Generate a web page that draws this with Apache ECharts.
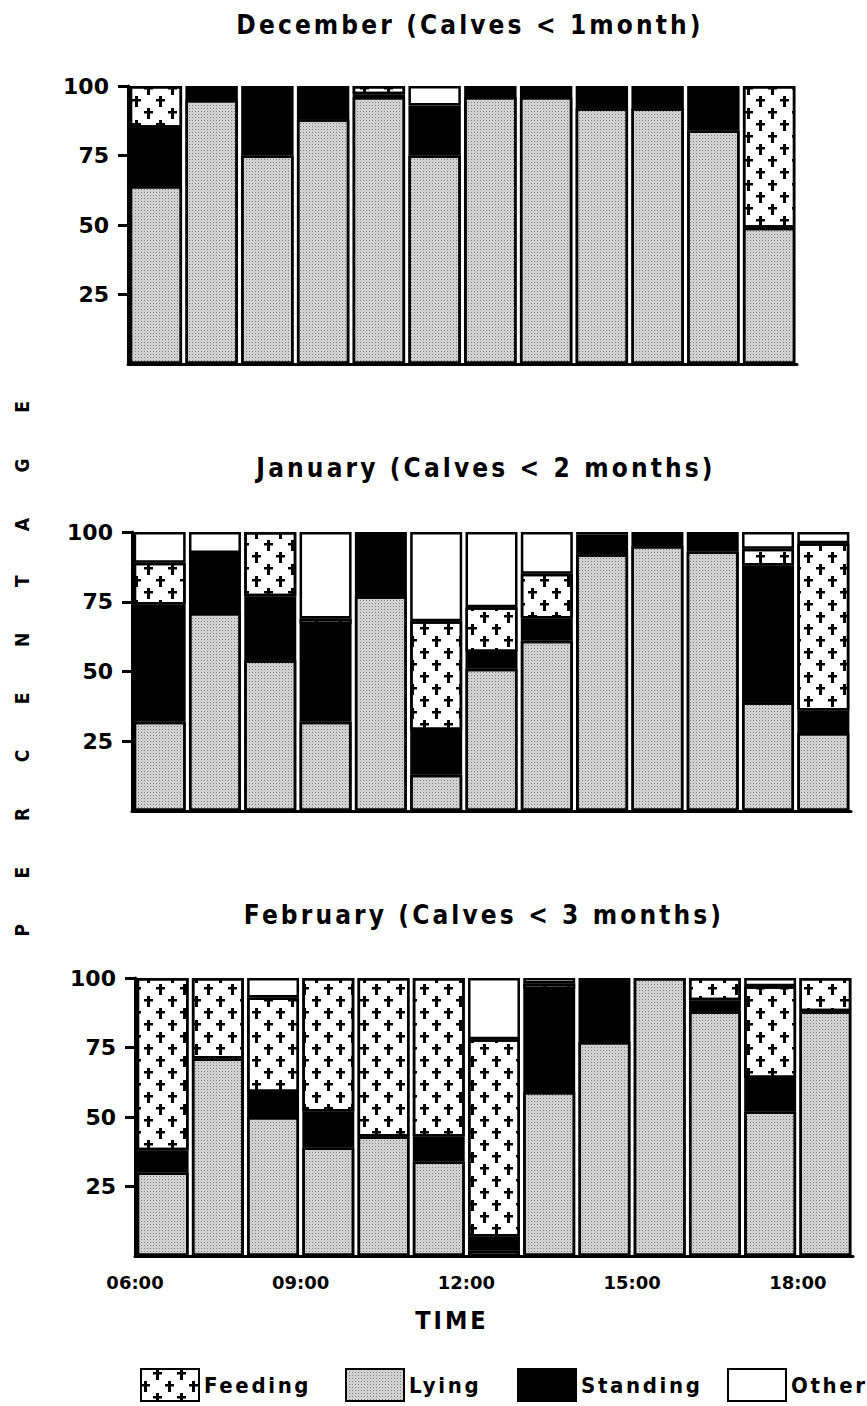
<!DOCTYPE html>
<html><head><meta charset="utf-8">
<script src="https://cdn.jsdelivr.net/npm/echarts@6/dist/echarts.min.js"></script>
<style>
html,body{margin:0;padding:0;background:#fff;}
#chart{width:867px;height:1406px;}
#chart text[style*="sans-serif"]{letter-spacing:0.12em;}
#chart text[style*="monospace"]{letter-spacing:2.4em;}
</style></head><body><div id="chart"></div>
<script>
// ---- data ----
const decCategories = ['06:00','07:00','08:00','09:00','10:00','11:00','12:00','13:00','14:00','15:00','16:00','17:00'];
const janFebCategories = ['06:00','07:00','08:00','09:00','10:00','11:00','12:00','13:00','14:00','15:00','16:00','17:00','18:00'];

const decLying    = [64, 95, 75, 88, 96, 75, 96, 96, 92, 92, 84, 49];
const decStanding = [21,  5, 25, 12,  1, 18,  4,  4,  8,  8, 16,  0];
const decFeeding  = [15,  0,  0,  0,  3,  0,  0,  0,  0,  0,  0, 51];
const decOther    = [ 0,  0,  0,  0,  0,  7,  0,  0,  0,  0,  0,  0];

const janLying    = [32, 71,  54, 32, 77, 13, 51, 61, 92, 95, 93, 39, 28];
const janStanding = [42, 20,  23, 35, 23, 16,  6,  8,  7,  5,  7, 49,  8];
const janFeeding  = [15, 1.5, 23,  2,  0, 39, 16, 16,  0,  0,  0,  6, 60];
const janOther    = [11, 7.5,  0, 31,  0, 32, 27, 15,  1,  0,  0,  6,  4];

const febLying    = [30, 71, 50, 39, 43, 34,  2, 59, 77, 100, 88, 52, 88];
const febStanding = [ 8,  0,  9, 13,  0,  9,  5, 37, 23,   0,  4, 12,  0];
const febFeeding  = [62, 29, 34, 48, 57, 57, 71,  2,  0,   0,  8, 33, 12];
const febOther    = [ 0,  0,  7,  0,  0,  0, 22,  2,  0,   0,  0,  3,  0];

const panelTitles = ['December (Calves < 1month)', 'January (Calves < 2 months)', 'February (Calves < 3 months)'];
const yTickValues = [25, 50, 75, 100];
const timeTickHours = [6, 9, 12, 15, 18];
const timeTickLabels = ['06:00', '09:00', '12:00', '15:00', '18:00'];
const seriesNames = ['Lying', 'Standing', 'Feeding', 'Other'];
const legendNames = ['Feeding', 'Lying', 'Standing', 'Other'];
const yAxisTitle = 'PERCENTAGE';
const xAxisTitle = 'TIME';

// ---- styles ----
const spacedFont = 'DejaVu Sans Condensed, sans-serif';
const wideSpacedFont = 'DejaVu Sans Condensed, monospace';
const crossPath = 'path://M3,0h3v3h3v2.5h-3v5.5h-3v-5.5h-3v-2.5h3z';
const styles = {
  Lying: {color: '#d0d0d0', borderColor: '#000', borderWidth: 2.5,
    decal: {symbol: 'rect', symbolSize: 1, dashArrayX: [1, 2], dashArrayY: [1, 2], color: '#858585'}},
  Standing: {color: '#000', borderColor: '#000', borderWidth: 2.5},
  Feeding: {color: '#fff', borderColor: '#000', borderWidth: 2.5,
    decal: {symbol: crossPath, symbolSize: 1, symbolKeepAspect: false,
      dashArrayX: [[9, 15], [0, 12, 9, 3]], dashArrayY: [11, 1], color: '#000'}},
  Other: {color: '#fff', borderColor: '#000', borderWidth: 2.5}
};

const panels = [
  {cats: decCategories, data: [decLying, decStanding, decFeeding, decOther]},
  {cats: janFebCategories, data: [janLying, janStanding, janFeeding, janOther]},
  {cats: janFebCategories, data: [febLying, febStanding, febFeeding, febOther]}
];
const grids = [
  {left: 128, top: 86, width: 669, height: 278},
  {left: 132, top: 532, width: 719, height: 279},
  {left: 135, top: 978, width: 718, height: 278}
];

const xAxes = [], yAxes = [], series = [];
panels.forEach((p, gi) => {
  xAxes.push({type: 'category', gridIndex: gi, data: p.cats,
    axisLine: {show: true, lineStyle: {color: '#000', width: 3}},
    axisTick: {show: false}, axisLabel: {show: false}, splitLine: {show: false}});
  yAxes.push({type: 'value', gridIndex: gi, min: 0, max: 100, interval: 25,
    axisLine: {show: true, lineStyle: {color: '#000', width: 3}},
    axisTick: {show: true, length: 10, lineStyle: {color: '#000', width: 3}, customValues: yTickValues},
    axisLabel: {customValues: yTickValues, margin: 19, color: '#000', fontSize: 22,
      fontWeight: 'bold', fontFamily: 'DejaVu Sans'},
    splitLine: {show: false}});
  seriesNames.forEach((name, si) => {
    series.push({type: 'bar', name, stack: 'panel' + gi, xAxisIndex: gi, yAxisIndex: gi,
      barCategoryGap: '6%', itemStyle: styles[name],
      emphasis: {disabled: true},
      data: p.data[si].map(v => v === 0 ? '-' : v)});
  });
});
xAxes.push({type: 'value', gridIndex: 2, min: 6, max: 19, position: 'bottom',
  axisLine: {show: false}, axisTick: {show: false}, splitLine: {show: false},
  axisLabel: {customValues: timeTickHours, margin: 17, color: '#000', fontSize: 18,
    fontWeight: 'bold', fontFamily: 'DejaVu Sans',
    formatter: v => timeTickLabels[timeTickHours.indexOf(v)]}});

const legendLeft = [140, 345, 517, 727];
const legends = legendNames.map((n, i) => ({
  data: [n], left: legendLeft[i], top: 1368, padding: 0, itemWidth: 58, itemHeight: 32,
  icon: 'rect', selectedMode: false,
  textStyle: {color: '#000', fontSize: 22, fontWeight: 'bold', fontFamily: spacedFont}
}));

const titleX = [470, 486, 484], titleY = [25, 468, 915];
const graphics = panelTitles.map((t, i) => ({
  type: 'text', x: titleX[i], y: titleY[i],
  style: {text: t, fill: '#000', fontSize: 26, fontWeight: 'bold', fontFamily: spacedFont,
    textAlign: 'center', textVerticalAlign: 'middle'}
}));
graphics.push({type: 'text', x: 452, y: 1320,
  style: {text: xAxisTitle, fill: '#000', fontSize: 25, fontWeight: 'bold', fontFamily: spacedFont,
    textAlign: 'center', textVerticalAlign: 'middle'}});
graphics.push({type: 'text', x: 22, y: 646, rotation: Math.PI / 2,
  style: {text: yAxisTitle, fill: '#000', fontSize: 19, fontWeight: 'bold', fontFamily: wideSpacedFont,
    textAlign: 'center', textVerticalAlign: 'middle'}});

const chart = echarts.init(document.getElementById('chart'), null, {renderer: 'svg'});
chart.setOption({
  animation: false,
  backgroundColor: '#fff',
  grid: grids,
  xAxis: xAxes,
  yAxis: yAxes,
  legend: legends,
  graphic: graphics,
  series
});
</script></body></html>
